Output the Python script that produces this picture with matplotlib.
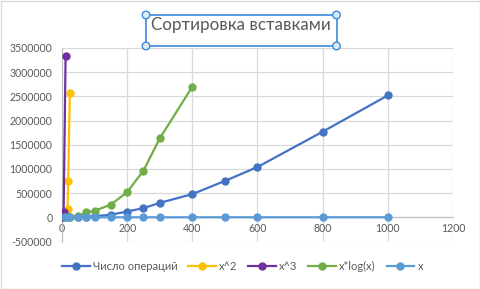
import matplotlib
matplotlib.use("Agg")
import matplotlib.pyplot as plt
from matplotlib.patches import Rectangle, Circle
from matplotlib.ticker import FuncFormatter

# data
x_ops = [10, 20, 50, 75, 100, 150, 200, 250, 300, 400, 500, 600, 800, 1000]
y_ops = [250, 1000, 6000, 14000, 25000, 53000, 120000, 190000, 298000, 480000, 752000, 1040000, 1770000, 2520000]

x_sq = [1, 3, 5, 17, 19, 24]
y_sq = [1, 9, 25000, 175000, 750000, 2560000]

x_cube = [1, 2, 5, 11]
y_cube = [1, 8, 117000, 3330000]

x_nlog = [10, 25, 50, 75, 100, 150, 200, 250, 300, 400]
y_nlog = [1000, 6000, 30000, 100000, 135000, 262000, 521000, 965000, 1631000, 2700000]

x_lin = [10, 20, 50, 75, 100, 150, 200, 250, 300, 400, 500, 600, 800, 1000]
y_lin = list(x_lin)

labels = ["Число операций", "x^2", "x^3", "x*log(x)", "x"]
colors = ["#4472C4", "#FFC000", "#7030A0", "#70AD47", "#5B9BD5"]
title = "Сортировка вставками"

txt_color = "#595959"
grid_color = "#D9D9D9"
plt.rcParams["font.family"] = ["Lato", "DejaVu Sans"]

W, H = 481, 289
fig = plt.figure(figsize=(W / 100, H / 100), dpi=100)
ax = fig.add_axes([62 / W, 1 - 241.5 / H, (453 - 62) / W, (241.5 - 48) / H])

series = [(x_ops, y_ops), (x_sq, y_sq), (x_cube, y_cube), (x_nlog, y_nlog), (x_lin, y_lin)]
for (xs, ys), lab, col in zip(series, labels, colors):
    ax.plot(xs, ys, color=col, lw=1.6, marker="o", ms=5, label=lab, zorder=3)

ax.set_xlim(0, 1200)
ax.set_ylim(-500000, 3500000)
ax.set_xticks(range(0, 1201, 200))
ax.set_yticks(range(-500000, 3500001, 500000))
ax.yaxis.set_major_formatter(FuncFormatter(lambda v, p: "%d" % v))
ax.grid(True, color=grid_color, lw=0.9, zorder=0)
ax.set_axisbelow(True)
for s in ["top", "right"]:
    ax.spines[s].set_visible(False)
ax.spines["bottom"].set_position(("data", 0))
ax.spines["bottom"].set_color("#BFBFBF")
ax.spines["left"].set_color("#BFBFBF")
ax.spines["bottom"].set_zorder(1)
ax.tick_params(length=0, labelsize=7.6, labelcolor=txt_color)
ax.tick_params(axis="y", pad=7)
ax.tick_params(axis="x", pad=4)

leg = fig.legend(loc="center", bbox_to_anchor=(242.5 / W, 1 - 266 / H), ncol=5, frameon=False,
                 fontsize=8.0, handlelength=2.5, handletextpad=0.3, columnspacing=0.95,
                 markerscale=1.0)
for t in leg.get_texts():
    t.set_color(txt_color)

# title, scaled to fit the box width
tt = fig.text(241 / W, 1 - 25 / H, title, ha="center", va="center", color=txt_color, fontsize=11)
fig.canvas.draw()
bb = tt.get_window_extent()
tt.set_fontsize(11 * 180 / bb.width)

# selection box with handles around the title
x0, x1, y0, y1 = 146 / W, 336.5 / W, 1 - 46 / H, 1 - 15 / H
fig.add_artist(Rectangle((x0, y0), x1 - x0, y1 - y0, transform=fig.transFigure,
                         fill=False, edgecolor="#3C8ADB", lw=1.2))
for cx in (x0, x1):
    for cy in (y0, y1):
        fig.add_artist(Circle((cx * W, cy * H), 3.8, transform=None, facecolor="#DDEBF7",
                              edgecolor="#3C8ADB", lw=1.0))

# chart area border
fig.add_artist(Rectangle((0.5 / W, 0.5 / H), 1 - 1.5 / W, 1 - 1.5 / H, transform=fig.transFigure,
                         fill=False, edgecolor="#D9D9D9", lw=1.0))

fig.savefig("out.png", dpi=100)
